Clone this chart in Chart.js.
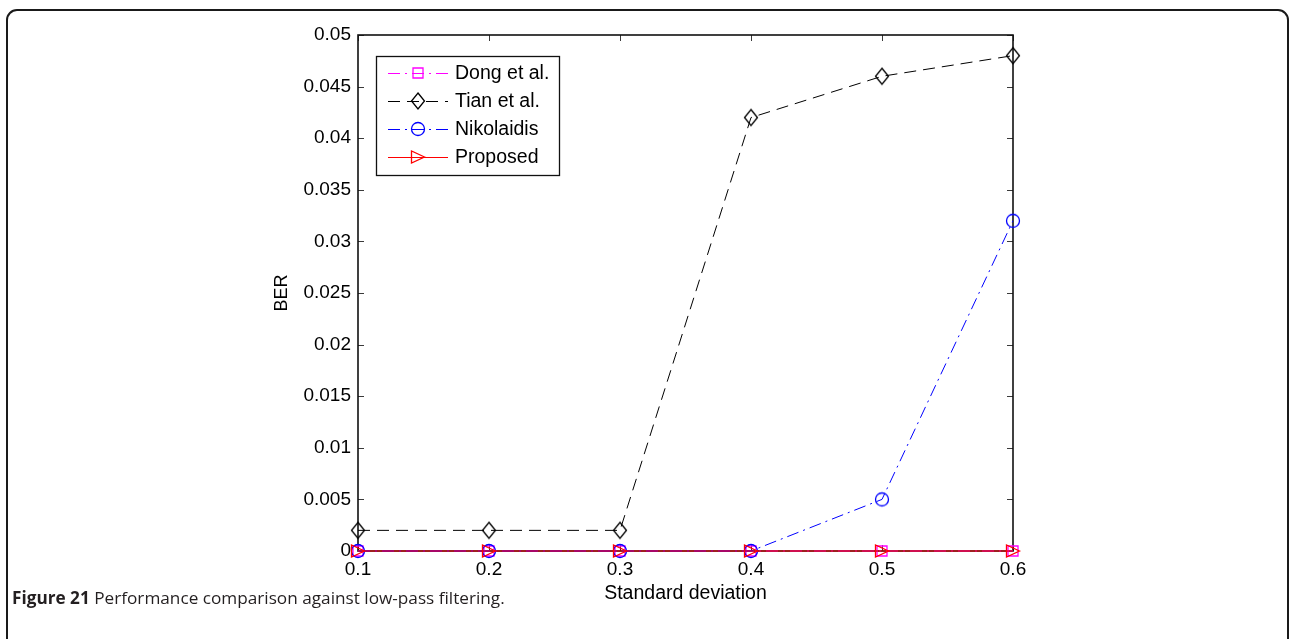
<!DOCTYPE html>
<html>
<head>
<meta charset="utf-8">
<title>BER vs standard deviation</title>
<script src="https://cdn.jsdelivr.net/npm/chart.js@4.4.0/dist/chart.umd.min.js"></script>
<style>
  html, body { margin: 0; padding: 0; background: #fff; overflow: hidden; }
  #wrap { position: relative; width: 1289px; height: 639px; }
  #frame { position: absolute; left: 6px; top: 9px; width: 1283px; height: 700px; border: 2px solid #1a1a1a; border-radius: 11px; box-sizing: border-box; }
  #plot { position: absolute; left: 0; top: 0; }
  #caption { position: absolute; left: 12px; top: 586px; font-family: "Open Sans", sans-serif; font-size: 17.2px; color: #231f20; white-space: nowrap; }
  #caption b { font-weight: 700; }
</style>
</head>
<body>
<div id="wrap">
  <div id="frame"></div>
  <canvas id="plot" width="1289" height="639"></canvas>
  <div id="caption"><b>Figure 21</b> Performance comparison against low-pass filtering.</div>
</div>
<script>
const sigma = [0.1, 0.2, 0.3, 0.4, 0.5, 0.6];
const dong = [0, 0, 0, 0, 0, 0];
const tian = [0.002, 0.002, 0.002, 0.042, 0.046, 0.048];
const nikolaidis = [0, 0, 0, 0, 0.005, 0.032];
const proposed = [0, 0, 0, 0, 0, 0];
const seriesNames = ["Dong et al.", "Tian et al.", "Nikolaidis", "Proposed"];

const FONT = "Liberation Sans, Arial, Helvetica, sans-serif";

function pts(values) {
  return values.map((v, i) => ({ x: sigma[i], y: v }));
}

// open marker outlines, shared by the plot and the legend
function drawMarker(ctx, style, cx, cy) {
  ctx.beginPath();
  if (style === "square") {
    ctx.rect(cx - 5, cy - 5, 10, 10);
  } else if (style === "diamond") {
    ctx.moveTo(cx, cy - 8);
    ctx.lineTo(cx + 6.5, cy);
    ctx.lineTo(cx, cy + 8);
    ctx.lineTo(cx - 6.5, cy);
    ctx.closePath();
  } else if (style === "circle") {
    ctx.arc(cx, cy, 6.5, 0, Math.PI * 2);
  } else {
    ctx.moveTo(cx + 6.5, cy);
    ctx.lineTo(cx - 6.5, cy - 6);
    ctx.lineTo(cx - 6.5, cy + 6);
    ctx.closePath();
  }
  ctx.stroke();
}

function markerImage(style, color) {
  const c = document.createElement("canvas");
  c.width = 22; c.height = 22;
  const g = c.getContext("2d");
  g.strokeStyle = color;
  g.lineWidth = 1.3;
  drawMarker(g, style, 11, 11);
  return c;
}

const axisBox = {
  id: "axisBox",
  beforeDatasetsDraw(chart) {
    const { ctx, chartArea: a, scales: { x, y } } = chart;
    const len = 6;
    ctx.save();
    ctx.strokeStyle = "#3a3a3a";
    ctx.lineWidth = 1;
    ctx.beginPath();
    x.ticks.forEach(t => {
      const px = Math.round(x.getPixelForValue(t.value)) + 0.5;
      ctx.moveTo(px, a.bottom); ctx.lineTo(px, a.bottom - len);
      ctx.moveTo(px, a.top); ctx.lineTo(px, a.top + len);
    });
    y.ticks.forEach(t => {
      const py = Math.round(y.getPixelForValue(t.value)) + 0.5;
      ctx.moveTo(a.left, py); ctx.lineTo(a.left + len, py);
      ctx.moveTo(a.right, py); ctx.lineTo(a.right - len, py);
    });
    ctx.stroke();
    ctx.strokeStyle = "#111";
    ctx.lineWidth = 1.6;
    ctx.strokeRect(a.left, a.top, a.right - a.left, a.bottom - a.top);
    ctx.restore();
  }
};

const legendBox = {
  id: "legendBox",
  afterDraw(chart) {
    const { ctx } = chart;
    const bx = 376, by = 56, bw = 183, bh = 119;
    ctx.save();
    ctx.fillStyle = "#fff";
    ctx.fillRect(bx, by, bw, bh);
    ctx.strokeStyle = "#111";
    ctx.lineWidth = 1.3;
    ctx.strokeRect(bx + 0.5, by + 0.5, bw, bh);
    chart.data.datasets.forEach((ds, i) => {
      const cy = by + 17 + i * 28;
      ctx.strokeStyle = ds.borderColor;
      ctx.lineWidth = 1;
      ctx.setLineDash(ds.borderDash || []);
      ctx.beginPath();
      ctx.moveTo(bx + 12, cy + 0.5);
      ctx.lineTo(bx + 72, cy + 0.5);
      ctx.stroke();
      ctx.setLineDash([]);
      ctx.drawImage(ds.pointStyle, bx + 42 - 11, cy - 11);
      ctx.fillStyle = "#000";
      ctx.font = "19.5px " + FONT;
      ctx.textBaseline = "middle";
      ctx.fillText(ds.label, bx + 79, cy + 1);
    });
    ctx.restore();
  }
};

const baseDs = {
  borderWidth: 1,
  pointRadius: 7,
  tension: 0,
  clip: false,
  fill: false
};

new Chart(document.getElementById("plot").getContext("2d"), {
  type: "line",
  data: {
    datasets: [
      { ...baseDs, label: seriesNames[0], data: pts(dong), borderColor: "#ff00ff",
        borderDash: [12, 5, 2, 5], pointStyle: markerImage("square", "#ff00ff"), order: 4 },
      { ...baseDs, label: seriesNames[1], data: pts(tian), borderColor: "#000000",
        borderDash: [12, 7], pointStyle: markerImage("diamond", "#000000"), order: 3 },
      { ...baseDs, label: seriesNames[2], data: pts(nikolaidis), borderColor: "#0000ff",
        borderDash: [12, 5, 2, 5], pointStyle: markerImage("circle", "#0000ff"), order: 2 },
      { ...baseDs, label: seriesNames[3], data: pts(proposed), borderColor: "#ff0000",
        pointStyle: markerImage("triangle", "#ff0000"), order: 1 }
    ]
  },
  options: {
    responsive: false,
    animation: false,
    devicePixelRatio: 1,
    layout: { padding: { left: 268, right: 276, top: 35, bottom: 34 } },
    plugins: { legend: { display: false }, tooltip: { enabled: false } },
    scales: {
      x: {
        type: "linear",
        min: 0.1,
        max: 0.6,
        grid: { display: false, drawTicks: false },
        border: { display: false },
        ticks: {
          stepSize: 0.1,
          padding: 7,
          color: "#000",
          font: { family: FONT, size: 19 },
          callback: v => String(+v.toFixed(1))
        },
        title: { display: true, text: "Standard deviation", color: "#000", font: { family: FONT, size: 19.5 }, padding: { top: 0, bottom: 0 } },
        afterFit(s) { s.height = 54; }
      },
      y: {
        min: 0,
        max: 0.05,
        grid: { display: false, drawTicks: false },
        border: { display: false },
        ticks: {
          stepSize: 0.005,
          padding: 7,
          color: "#000",
          font: { family: FONT, size: 19 },
          callback: v => String(+v.toFixed(3))
        },
        title: { display: true, text: "BER", color: "#000", font: { family: FONT, size: 18 }, padding: { top: 3, bottom: 0 } },
        afterFit(s) { s.width = 90; }
      }
    }
  },
  plugins: [axisBox, legendBox]
});
</script>
</body>
</html>
